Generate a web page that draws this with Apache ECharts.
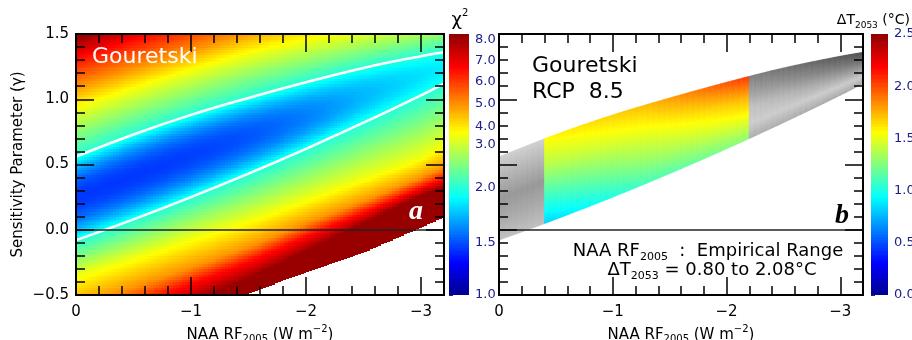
<!DOCTYPE html>
<html><head><meta charset="utf-8">
<script src="https://cdn.jsdelivr.net/npm/echarts@6/dist/echarts.min.js"></script>
<style>html,body{margin:0;padding:0;background:#fff}#c{width:912px;height:340px}</style>
</head><body><div id="c"></div>
<script>
// ================= DATA =================
// Panel a: chi-square field, described by iso-lines (y of each level at the x knots)
const xKnots      = [0, -0.5, -1, -1.5, -2, -2.5, -3, -3.2];
const lower8      = [-0.90, -0.72, -0.54, -0.36, -0.15, 0.06, 0.27, 0.33];
const lower65     = [-0.75, -0.58, -0.40, -0.23, -0.04, 0.14, 0.33, 0.40];
const lower5      = [-0.60, -0.44, -0.29, -0.13, 0.05, 0.22, 0.40, 0.48];
const lower35     = [-0.35, -0.21, -0.06, 0.08, 0.24, 0.40, 0.56, 0.66];
const contourLow  = [-0.08, 0.08, 0.25, 0.43, 0.62, 0.82, 1.03, 1.12];   // white line (chi2 = 2)
const valleyY     = [0.25, 0.41, 0.57, 0.72, 0.87, 1.03, 1.18, 1.24];
const valleyChi2  = [1.45, 1.45, 1.47, 1.52, 1.62, 1.75, 1.85, 1.88];
const contourUp   = [0.56, 0.73, 0.88, 1.01, 1.13, 1.24, 1.33, 1.36];   // white line (chi2 = 2)
const upper35     = [0.92, 1.07, 1.21, 1.34, 1.44, 1.52, 1.59, 1.62];
const upper5      = [1.10, 1.24, 1.38, 1.52, 1.64, 1.76, 1.86, 1.90];
const upper65     = [1.30, 1.44, 1.58, 1.72, 1.85, 1.98, 2.12, 2.18];
const upper8      = [1.45, 1.60, 1.74, 1.88, 2.00, 2.12, 2.24, 2.30];
const isoLevelsLow = [8.0, 6.5, 5.0, 3.5, 2.0];
const isoLevelsUp  = [2.0, 3.5, 5.0, 6.5, 8.0];
const cutoffX     = [-1.40, -2.00, -2.50, -3.00, -3.20];   // white (no data) region edge
const cutoffY     = [-0.52, -0.32, -0.17, 0.02, 0.10];

// colour bar a (chi2), non-uniform tick placement as in the picture
const chi2Ticks   = [1.0, 1.5, 2.0, 3.0, 4.0, 5.0, 6.0, 7.0, 8.0];
const chi2TickPos = [0, 0.199, 0.41, 0.575, 0.644, 0.732, 0.816, 0.897, 0.977];

// Panel b: dT2053 inside the chi2=2 band
const empiricalRange = [-0.4, -2.2];
const dTRangeText    = [0.80, 2.08];
const dTColX   = [-0.4, -1.3, -2.2];
const dTRowT   = [0, 0.33, 0.67, 1];
const dTAtM04  = [0.82, 1.08, 1.37, 1.57];
const dTAtM13  = [1.10, 1.33, 1.53, 1.73];
const dTAtM22  = [1.28, 1.52, 1.75, 2.06];
const greyT        = [0, 0.25, 0.5, 0.75, 1];
const greyLeft     = [0.75, 0.66, 0.59, 0.70, 0.81];
const greyRightM22 = [0.68, 0.80, 0.76, 0.62, 0.50];
const greyRightM32 = [0.66, 0.80, 0.60, 0.44, 0.32];
const dTTicks = [0, 0.5, 1.0, 1.5, 2.0, 2.5];

// axes
const xMajor = [0, -1, -2, -3];
const xMinor = [-0.2, -0.4, -0.6, -0.8, -1.2, -1.4, -1.6, -1.8, -2.2, -2.4, -2.6, -2.8, -3.2];
const yRange = [-0.5, 1.5];

// ================= helpers =================
function lin(xs, ys, x) {
  const n = xs.length, dec = xs[0] > xs[n - 1];
  for (let i = 0; i < n - 1; i++) {
    const a = xs[i], b = xs[i + 1];
    if (dec ? (x <= a && x >= b) : (x >= a && x <= b)) {
      const f = (x - a) / (b - a); return ys[i] + f * (ys[i + 1] - ys[i]);
    }
  }
  if (dec ? x > xs[0] : x < xs[0]) { const f = (x - xs[0]) / (xs[1] - xs[0]); return ys[0] + f * (ys[1] - ys[0]); }
  const f = (x - xs[n - 2]) / (xs[n - 1] - xs[n - 2]); return ys[n - 2] + f * (ys[n - 1] - ys[n - 2]);
}
// smooth (cubic Hermite) curve through the knots
function curve(xs, ys, x) {
  const n = xs.length;
  let i = -1;
  for (let k = 0; k < n - 1; k++) { if (x <= xs[k] && x >= xs[k + 1]) { i = k; break; } }
  if (i < 0) return lin(xs, ys, x);
  const slope = k => {
    if (k === 0) return (ys[1] - ys[0]) / (xs[1] - xs[0]);
    if (k === n - 1) return (ys[n - 1] - ys[n - 2]) / (xs[n - 1] - xs[n - 2]);
    return (ys[k + 1] - ys[k - 1]) / (xs[k + 1] - xs[k - 1]);
  };
  const h = xs[i + 1] - xs[i], t = (x - xs[i]) / h;
  const t2 = t * t, t3 = t2 * t;
  return (2 * t3 - 3 * t2 + 1) * ys[i] + (t3 - 2 * t2 + t) * h * slope(i) + (-2 * t3 + 3 * t2) * ys[i + 1] + (t3 - t2) * h * slope(i + 1);
}
const JET = [[0, [0, 0, 143]], [0.125, [0, 0, 255]], [0.375, [0, 255, 255]], [0.625, [255, 255, 0]], [0.875, [255, 0, 0]], [1, [143, 0, 0]]];
function jet(p) {
  p = Math.max(0, Math.min(1, p));
  for (let i = 0; i < JET.length - 1; i++) {
    const [a, ca] = JET[i], [b, cb] = JET[i + 1];
    if (p >= a && p <= b) {
      const f = (p - a) / (b - a);
      const c = ca.map((v, k) => Math.round(v + f * (cb[k] - v)));
      return 'rgb(' + c.join(',') + ')';
    }
  }
  return 'rgb(143,0,0)';
}
function grey(g) { const v = Math.round(255 * g); return 'rgb(' + v + ',' + v + ',' + v + ')'; }
function chi2ToP(v) { return Math.max(0, Math.min(1, lin(chi2Ticks, chi2TickPos, v))); }

const isoLines = [lower8, lower65, lower5, lower35, contourLow, valleyY, contourUp, upper35, upper5, upper65, upper8];
function chi2P(x, y) {
  const ys = isoLines.map(a => curve(xKnots, a, x));
  const vs = isoLevelsLow.concat([curve(xKnots, valleyChi2, x)], isoLevelsUp);
  const ps = vs.map(chi2ToP);
  if (y <= ys[0] || y >= ys[10]) return 0.99;
  for (let i = 0; i < 10; i++) {
    if (y >= ys[i] && y <= ys[i + 1]) {
      if (i === 4) { const s = (y - ys[5]) / (ys[4] - ys[5]); return ps[5] + (ps[4] - ps[5]) * s * s; }
      if (i === 5) { const s = (y - ys[5]) / (ys[6] - ys[5]); return ps[5] + (ps[6] - ps[5]) * s * s; }
      const f = (y - ys[i]) / (ys[i + 1] - ys[i]); return ps[i] + f * (ps[i + 1] - ps[i]);
    }
  }
  return 0.99;
}

// ---- panel a cells: columns, each starting at the no-data edge ----
const DXA = 0.025, DYA = 0.02;
const cellsA = [], colorsA = [];
const nRowsA = Math.round((yRange[1] - yRange[0]) / DYA);
for (let i = 0; i < Math.round(3.2 / DXA); i++) {
  const x = -(i + 0.5) * DXA;
  const cut = x < cutoffX[0] ? lin(cutoffX, cutoffY, x) : yRange[0];
  for (let j = 0; j < nRowsA; j++) {
    let y0 = yRange[0] + j * DYA, y1 = y0 + DYA;
    if (y1 <= cut) continue;
    if (y0 < cut) y0 = cut;
    cellsA.push([x, y0, y1]);
    colorsA.push(jet(chi2P(x, (y0 + y1) / 2)));
  }
}
// ---- panel b cells ----
function bandY(x, t) { const lo = curve(xKnots, contourLow, x), up = curve(xKnots, contourUp, x); return lo + t * (up - lo); }
const DXB = 0.05, NTB = 60;
const cellsB = [], colorsB = [];
for (let i = 0; i < Math.round(3.2 / DXB); i++) {
  const x0 = -i * DXB, x1 = -(i + 1) * DXB, xc = (x0 + x1) / 2;
  for (let j = 0; j < NTB; j++) {
    const t0 = j / NTB, t1 = (j + 1) / NTB, tc = (t0 + t1) / 2;
    cellsB.push([x0, x1, t0, t1]);
    let col;
    if (xc > empiricalRange[0]) col = grey(lin(greyT, greyLeft, tc));
    else if (xc < empiricalRange[1]) {
      const g1 = lin(greyT, greyRightM22, tc), g2 = lin(greyT, greyRightM32, tc);
      col = grey(lin([-2.2, -3.2], [g1, g2], xc));
    } else {
      const v = [dTAtM04, dTAtM13, dTAtM22].map(a => lin(dTRowT, a, tc));
      col = jet(lin(dTColX, v, xc) / 2.5);
    }
    colorsB.push(col);
  }
}
// colour bars
const NCB = 160;
const cbA = [], cbAcol = [], cbB = [], cbBcol = [];
for (let k = 0; k < NCB; k++) {
  const p0 = k / NCB, p1 = (k + 1) / NCB, p = (p0 + p1) / 2;
  cbA.push([0.5, p0, p1]); cbAcol.push(jet(p));
  cbB.push([0.5, p0 * 2.5, p1 * 2.5]); cbBcol.push(jet(p));
}

// ================= chart =================
const FONT = '"DejaVu Sans", sans-serif';
const NAVY = '#20208c';
const chart = echarts.init(document.getElementById('c'), null, { renderer: 'canvas', width: 912, height: 340 });

function gridDef(l, w) { return { left: l, top: 34, width: w, height: 261, containLabel: false, outerBoundsMode: 'none', show: false }; }
const lineS = { color: '#000', width: 2 };
const tickS = { color: '#000', width: 1.5 };
const minusFmt = v => (Math.abs(v) < 1e-9 ? '0' : (v < 0 ? '\u2212' + Math.abs(v) : String(v)));
const minusFmt1 = v => (Math.abs(v) < 1e-9 ? '0.0' : (v < 0 ? '\u2212' + Math.abs(v).toFixed(1) : v.toFixed(1)));
const xName = '{a|NAA RF}{s|2005}{a| (W m}{p|\u22122}{a|)}';
const xNameStyle = {
  rich: {
    a: { fontFamily: FONT, fontSize: 15, color: '#000', lineHeight: 20, verticalAlign: 'middle' },
    s: { fontFamily: FONT, fontSize: 10, color: '#000', verticalAlign: 'bottom' },
    p: { fontFamily: FONT, fontSize: 10, color: '#000', verticalAlign: 'top' }
  }
};
function xAx(grid, pos, ticks, len, labels) {
  return {
    type: 'value', gridIndex: grid, position: pos, min: -3.2, max: 0, inverse: true, z: 10,
    axisLine: { show: true, onZero: false, lineStyle: lineS },
    axisTick: { show: true, inside: true, length: len, lineStyle: tickS, customValues: ticks },
    axisLabel: labels ? { show: true, customValues: xMajor, formatter: minusFmt, fontFamily: FONT, fontSize: 15, color: '#000', margin: 10 } : { show: false },
    splitLine: { show: false },
    name: labels ? xName : '', nameLocation: 'middle', nameGap: 16, nameTextStyle: xNameStyle
  };
}
function yAx(grid, pos, labels, name) {
  return {
    type: 'value', gridIndex: grid, position: pos, min: yRange[0], max: yRange[1], interval: 0.5, z: 10,
    axisLine: { show: true, onZero: false, lineStyle: lineS },
    axisTick: { show: true, inside: true, length: 18, lineStyle: tickS },
    minorTick: { show: true, splitNumber: 5, length: 9, lineStyle: tickS },
    axisLabel: labels ? { show: true, formatter: minusFmt1, fontFamily: FONT, fontSize: 15, color: '#000', margin: 7 } : { show: false },
    splitLine: { show: false },
    name: name || '', nameLocation: 'middle', nameGap: 50, nameRotate: 90,
    nameTextStyle: { fontFamily: FONT, fontSize: 15, color: '#000' }
  };
}
function hiddenY(grid) { return { type: 'value', gridIndex: grid, min: yRange[0], max: yRange[1], show: false }; }

function rectRender(colors, dx) {
  return function (params, api) {
    const x = api.value(0), y0 = api.value(1), y1 = api.value(2);
    const a = api.coord([x + dx / 2, y1]);
    const b = api.coord([x - dx / 2, y0]);
    const l = Math.floor(Math.min(a[0], b[0])), r = Math.ceil(Math.max(a[0], b[0]));
    const t = Math.floor(Math.min(a[1], b[1])), bt = Math.ceil(Math.max(a[1], b[1]));
    return { type: 'rect', shape: { x: l, y: t, width: r - l, height: bt - t }, style: { fill: colors[params.dataIndex] } };
  };
}
function bandRender(params, api) {
  const x0 = api.value(0), x1 = api.value(1), t0 = api.value(2), t1 = api.value(3);
  const pts = [[x0, t0], [x1, t0], [x1, t1], [x0, t1]].map(([x, t]) => api.coord([x, bandY(x, t)]));
  const c = colorsB[params.dataIndex];
  return { type: 'polygon', shape: { points: pts }, style: { fill: c, stroke: c, lineWidth: 0.6 } };
}
const zeroLine = { silent: true, symbol: 'none', label: { show: false }, lineStyle: { color: '#222', width: 1.5, type: 'solid' }, data: [{ yAxis: 0 }] };
const richBox = (size, sub) => ({
  a: { fontFamily: FONT, fontSize: size, fill: '#000', lineHeight: size + 6, verticalAlign: 'middle' },
  s: { fontFamily: FONT, fontSize: sub, fill: '#000', verticalAlign: 'bottom' },
  p: { fontFamily: FONT, fontSize: sub, fill: '#000', verticalAlign: 'top' }
});

const option = {
  animation: false,
  backgroundColor: '#fff',
  grid: [gridDef(76, 368), gridDef(76, 368), gridDef(499, 364), gridDef(499, 364), gridDef(449, 20), gridDef(871, 17)],
  xAxis: [
    xAx(0, 'bottom', xMajor, 18, true), xAx(0, 'top', xMajor, 18, false),
    xAx(1, 'bottom', xMinor, 9, false), xAx(1, 'top', xMinor, 9, false),
    xAx(2, 'bottom', xMajor, 18, true), xAx(2, 'top', xMajor, 18, false),
    xAx(3, 'bottom', xMinor, 9, false), xAx(3, 'top', xMinor, 9, false),
    { type: 'value', gridIndex: 4, min: 0, max: 1, show: false },
    { type: 'value', gridIndex: 5, min: 0, max: 1, show: false }
  ],
  yAxis: [
    yAx(0, 'left', true, 'Sensitivity Parameter (\u03b3)'), yAx(0, 'right', false),
    hiddenY(1),
    yAx(2, 'left', false), yAx(2, 'right', false),
    hiddenY(3),
    {
      type: 'value', gridIndex: 4, position: 'right', min: 0, max: 1,
      axisLine: { show: false },
      axisTick: { show: true, inside: false, length: 4, customValues: chi2TickPos, lineStyle: { color: NAVY, width: 1 } },
      axisLabel: { show: true, customValues: chi2TickPos, margin: 6, fontFamily: FONT, fontSize: 13, color: NAVY,
        formatter: v => { let bi = 0; chi2TickPos.forEach((p, i) => { if (Math.abs(p - v) < Math.abs(chi2TickPos[bi] - v)) bi = i; }); return chi2Ticks[bi].toFixed(1); } },
      splitLine: { show: false }
    },
    {
      type: 'value', gridIndex: 5, position: 'right', min: 0, max: 2.5, interval: 0.5,
      axisLine: { show: false },
      axisTick: { show: true, inside: false, length: 4, lineStyle: { color: NAVY, width: 1 } },
      axisLabel: { show: true, margin: 6, fontFamily: FONT, fontSize: 13, color: NAVY, formatter: v => v.toFixed(1) },
      splitLine: { show: false }
    }
  ],
  series: [
    { type: 'custom', xAxisIndex: 0, yAxisIndex: 0, data: cellsA, renderItem: rectRender(colorsA, DXA), clip: true, z: 1, silent: true, progressive: 0, encode: { x: 0, y: [1, 2] } },
    { type: 'line', xAxisIndex: 0, yAxisIndex: 0, data: xKnots.map((x, i) => [x, contourUp[i]]), symbol: 'none', smooth: 0.4, lineStyle: { color: '#fff', width: 2.5 }, z: 3, silent: true, markLine: zeroLine },
    { type: 'line', xAxisIndex: 0, yAxisIndex: 0, data: xKnots.map((x, i) => [x, contourLow[i]]), symbol: 'none', smooth: 0.4, lineStyle: { color: '#fff', width: 2.5 }, z: 3, silent: true },
    { type: 'custom', xAxisIndex: 4, yAxisIndex: 3, data: cellsB, renderItem: bandRender, clip: true, z: 1, silent: true, progressive: 0, encode: { x: [0, 1] },
      markLine: zeroLine },
    { type: 'custom', xAxisIndex: 8, yAxisIndex: 6, data: cbA, renderItem: rectRender(cbAcol, 1), clip: true, silent: true, progressive: 0, encode: { x: 0, y: [1, 2] } },
    { type: 'custom', xAxisIndex: 9, yAxisIndex: 7, data: cbB, renderItem: rectRender(cbBcol, 1), clip: true, silent: true, progressive: 0, encode: { x: 0, y: [1, 2] } }
  ],
  graphic: [
    { type: 'text', x: 92, y: 57, z: 20, style: { text: 'Gouretski', fill: '#fff', font: '22px ' + FONT, verticalAlign: 'middle', align: 'left' } },
    { type: 'text', x: 416, y: 212, z: 20, style: { text: 'a', fill: '#fff', font: 'italic bold 28px "Liberation Serif", serif', verticalAlign: 'middle', align: 'center' } },
    { type: 'text', x: 532, y: 66, z: 20, style: { text: 'Gouretski', fill: '#000', font: '22px ' + FONT, verticalAlign: 'middle', align: 'left' } },
    { type: 'text', x: 532, y: 92, z: 20, style: { text: 'RCP  8.5', fill: '#000', font: '22px ' + FONT, verticalAlign: 'middle', align: 'left' } },
    { type: 'text', x: 842, y: 216, z: 20, style: { text: 'b', fill: '#000', font: 'italic bold 28px "Liberation Serif", serif', verticalAlign: 'middle', align: 'center' } },
    { type: 'text', x: 708, y: 251, z: 20, style: { text: '{a|NAA RF}{s|2005}{a|  :  Empirical Range}', align: 'center', verticalAlign: 'middle', rich: richBox(18, 11) } },
    { type: 'text', x: 712, y: 270, z: 20, style: { text: '{a|\u0394T}{s|2053}{a| = ' + dTRangeText[0].toFixed(2) + ' to ' + dTRangeText[1].toFixed(2) + '\u00b0C}', align: 'center', verticalAlign: 'middle', rich: richBox(18, 11) } },
    { type: 'text', x: 460, y: 20, z: 20, style: { text: '{a|\u03c7}{p|2}', align: 'center', verticalAlign: 'middle', rich: richBox(18, 10) } },
    { type: 'text', x: 910, y: 20, z: 20, style: { text: '{a|\u0394T}{s|2053}{a| (\u00b0C)}', align: 'right', verticalAlign: 'middle', rich: richBox(14, 9) } }
  ]
};
chart.setOption(option);
</script>
</body></html>
